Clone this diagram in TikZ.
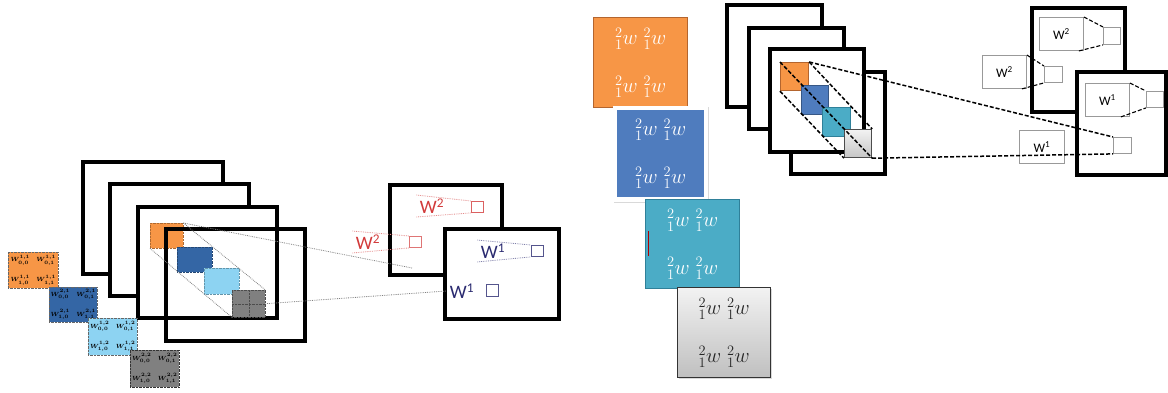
\documentclass[tikz,border=0pt]{standalone}
\usepackage{fontspec}
\newfontfamily\calfont{Carlito}
\usepackage{tikz}
\usetikzlibrary{positioning,shadows}
\definecolor{korange}{HTML}{F79646}
\definecolor{kbrown}{HTML}{B4652E}
\definecolor{kblue}{HTML}{4F7CBE}
\definecolor{kteal}{HTML}{4BACC6}
\definecolor{kdteal}{HTML}{2F8099}
\definecolor{ldblue}{HTML}{3466A5}
\definecolor{llblue}{HTML}{8DD3F2}
\definecolor{kred}{HTML}{D23A3A}
\definecolor{knavy}{HTML}{2A2A70}

\tikzset{
  frame/.style={draw, line width=3.4pt, fill=white},
  blk/.style={anchor=north west, inner sep=0pt, align=center},
  sq/.style={draw, anchor=north west, inner sep=0pt},
  wbox/.style={draw=gray!80, line width=0.9pt, anchor=north west, inner sep=0pt},
  wtext/.style={font=\fontsize{21}{22}\selectfont},
  tiny/.style={font=\fontsize{6.5}{6.5}\selectfont\boldmath, text=black},
  kdash/.style={dash pattern=on 4pt off 2pt, line width=1.5pt},
  kdot/.style={densely dotted, gray, line width=0.8pt},
}

\begin{document}
\begin{tikzpicture}[x=1pt, y=-1pt]
    \useasboundingbox (0,0) rectangle (1168,392);

    % left: stacked maps
    \draw[frame] (83,162) rectangle (223,274);
    \draw[frame] (110,184) rectangle (249,296);
    \draw[frame] (138,207) rectangle (277,318);

    \node[blk, fill=korange, draw=korange!70!black, densely dotted, minimum width=33pt, minimum height=25pt] (io) at (150,223) {};
    \node[blk, fill=ldblue, draw=ldblue!70!black, densely dotted, minimum width=35pt, minimum height=25pt] (ib) at (177,247) {};
    \node[blk, fill=llblue, draw=llblue!70!black, densely dotted, minimum width=35pt, minimum height=26pt] (il) at (204,268) {};
    \node[blk, fill=gray, draw=black!70, densely dotted, minimum width=33pt, minimum height=27pt] (ig) at (232,290) {};
    \draw[densely dotted, black!70] (ig.north) -- (ig.south);
    \draw[densely dotted, black!70] (ig.west) -- (ig.east);

    \draw[frame, fill=none] (166,229) rectangle (305,341);

    \draw[kdot] (io.north east) -- (ig.north east);
    \draw[kdot] (io.south west) -- (ig.south west);

    % left: kernels
    \node[blk, fill=korange, draw=black!60, densely dotted, minimum width=50pt, minimum height=36pt, tiny] (ko) at (8,252)
        {$W^{1,1}_{0,0}$\quad$W^{1,1}_{0,1}$\\[9pt]$W^{1,1}_{1,0}$\quad$W^{1,1}_{1,1}$};
    \node[blk, fill=ldblue, draw=black!60, densely dotted, minimum width=48pt, minimum height=35pt, tiny] (kb) at (49,287)
        {$W^{2,1}_{0,0}$\quad$W^{2,1}_{0,1}$\\[9pt]$W^{2,1}_{1,0}$\quad$W^{2,1}_{1,1}$};
    \node[blk, fill=llblue, draw=black!60, densely dotted, minimum width=49pt, minimum height=37pt, tiny] (kl) at (88,318)
        {$W^{1,2}_{0,0}$\quad$W^{1,2}_{0,1}$\\[9pt]$W^{1,2}_{1,0}$\quad$W^{1,2}_{1,1}$};
    \node[blk, fill=gray, draw=black!80, densely dotted, minimum width=49pt, minimum height=37pt, tiny] (kg) at (130,350)
        {$W^{2,2}_{0,0}$\quad$W^{2,2}_{0,1}$\\[9pt]$W^{2,2}_{1,0}$\quad$W^{2,2}_{1,1}$};

    % left: output maps
    \draw[frame] (390,185) rectangle (502,275);
    \node[text=kred, font=\fontsize{19}{19}\calfont] (lw2a) at (432,206) {W\textsuperscript{2}};
    \node[sq, draw=kred!80, line width=0.9pt, minimum width=12pt, minimum height=11pt] (ls2a) at (471,201) {};
    \node[text=kred, font=\fontsize{19}{19}\calfont] (lw2b) at (368,242) {W\textsuperscript{2}};
    \node[sq, draw=kred!70, line width=0.9pt, minimum width=12pt, minimum height=11pt] (ls2b) at (409,236) {};
    \draw[frame] (445,229) rectangle (559,319);
    \node[text=knavy, font=\fontsize{19}{19}\calfont] (lw1a) at (493,251) {W\textsuperscript{1}};
    \node[sq, draw=knavy!80, line width=0.9pt, minimum width=12pt, minimum height=11pt] (ls1a) at (531,245) {};
    \node[text=knavy, font=\fontsize{19}{19}\calfont] (lw1b) at (462,291) {W\textsuperscript{1}};
    \node[sq, draw=knavy!80, line width=0.9pt, minimum width=12pt, minimum height=12pt] (ls1b) at (486,284) {};
    \coordinate (lend) at (412,268);

    \draw[kdot, kred!60] (lw2a.north west) -- (ls2a.north west);
    \draw[kdot, kred!60] (lw2a.south west) -- (ls2a.south west);
    \draw[kdot, kred!60] (lw2b.north west) -- (ls2b.north west);
    \draw[kdot, kred!60] (lw2b.south west) -- (ls2b.south west);
    \draw[kdot, knavy!60] (lw1a.north west) -- (ls1a.north west);
    \draw[kdot, knavy!60] (lw1a.south west) -- (ls1a.south west);
    \draw[kdot] (io.north east) -- (lend);
    \draw[kdot] (ig.east) -- (lw1b.west);

    % right: kernels
    \node[blk, fill=korange, draw=kbrown, line width=1.4pt, minimum width=94pt, minimum height=90pt, text=white, wtext] (ro) at (593,17)
        {${}^{2}_{1}w$\;${}^{2}_{1}w$\\[26pt]${}^{2}_{1}w$\;${}^{2}_{1}w$};
    \node[blk, fill=white, drop shadow={opacity=0.3, shadow xshift=1pt, shadow yshift=-1pt}, minimum width=95pt, minimum height=96pt] (rbb) at (613,106) {};
    \node[blk, fill=kblue, minimum width=87pt, minimum height=87pt, text=white, wtext] (rb) at (617,110)
        {${}^{2}_{1}w$\;${}^{2}_{1}w$\\[26pt]${}^{2}_{1}w$\;${}^{2}_{1}w$};
    \node[blk, fill=kteal, draw=kdteal, line width=1.4pt, minimum width=94pt, minimum height=89pt, text=white, wtext] (rt) at (645,199)
        {${}^{2}_{1}w$\;${}^{2}_{1}w$\\[26pt]${}^{2}_{1}w$\;${}^{2}_{1}w$};
    \draw[red!70!black, line width=1pt] (648,231) -- (648,256);
    \node[blk, top color=gray!10, bottom color=gray!50, draw=black!80, line width=1.4pt, drop shadow={opacity=0.3, shadow xshift=1pt, shadow yshift=-1pt}, minimum width=93pt, minimum height=90pt, wtext, text=black!85] (rg) at (677,287)
        {${}^{2}_{1}w$\;${}^{2}_{1}w$\\[26pt]${}^{2}_{1}w$\;${}^{2}_{1}w$};

    % right: stacked maps
    \draw[frame] (727,5) rectangle (822,107);
    \draw[frame] (749,28) rectangle (844,129);
    \draw[frame] (791,72) rectangle (885,174);
    \draw[frame] (770,49) rectangle (864,152);

    \node[sq, fill=korange, draw=kbrown, line width=1.2pt, minimum width=28pt, minimum height=28pt] (so) at (780,62) {};
    \node[sq, fill=kblue, draw=kblue!70!black, line width=1.2pt, minimum width=27pt, minimum height=29pt] (sb) at (801,85) {};
    \node[sq, fill=kteal, draw=kdteal, line width=1.2pt, minimum width=28pt, minimum height=29pt] (st) at (822,107) {};
    \node[sq, top color=gray!10, bottom color=gray!45, draw=black!70, line width=1.2pt, minimum width=27pt, minimum height=28pt] (sg) at (844,129) {};

    \draw[kdash] (so.north west) -- (sg.south east);
    \draw[kdash] (so.north east) -- (sg.north east);
    \draw[kdash] (so.south west) -- (sg.south west);

    % right: output maps
    \draw[frame] (1032,8) rectangle (1125,112);
    \draw[frame] (1077,72) rectangle (1166,175);

    \node[wbox, minimum width=44pt, minimum height=33pt, font=\fontsize{13}{13}\calfont] (bw2a) at (1039,17) {W\textsuperscript{2}};
    \node[wbox, minimum width=17pt, minimum height=17pt] (qw2a) at (1103,27) {};
    \node[wbox, fill=white, minimum width=44pt, minimum height=33pt, font=\fontsize{13}{13}\calfont] (bw2b) at (982,55) {W\textsuperscript{2}};
    \node[wbox, minimum width=18pt, minimum height=16pt] (qw2b) at (1044,66) {};
    \node[wbox, minimum width=44pt, minimum height=33pt, font=\fontsize{13}{13}\calfont] (bw1a) at (1085,83) {W\textsuperscript{1}};
    \node[wbox, minimum width=17pt, minimum height=16pt] (qw1a) at (1146,91) {};
    \node[wbox, minimum width=45pt, minimum height=33pt, font=\fontsize{13}{13}\calfont] (bw1b) at (1019,130) {W\textsuperscript{1}};
    \node[wbox, minimum width=18pt, minimum height=16pt] (qw1b) at (1113,137) {};

    \draw[kdash, line width=1.1pt] (bw2a.north east) -- (qw2a.north west);
    \draw[kdash, line width=1.1pt] ([xshift=-5pt]bw2a.south east) -- (qw2a.south west);
    \draw[kdash, line width=1.1pt] (bw2b.north east) -- (qw2b.north west);
    \draw[kdash, line width=1.1pt] ([xshift=-5pt]bw2b.south east) -- (qw2b.south west);
    \draw[kdash, line width=1.1pt] (bw1a.north east) -- (qw1a.north west);
    \draw[kdash, line width=1.1pt] ([xshift=-9pt]bw1a.south east) -- (qw1a.south west);

    \draw[kdash] (so.north east) -- (qw1b.north west);
    \draw[kdash] (sg.south east) -- (qw1b.south west);
\end{tikzpicture}
\end{document}
